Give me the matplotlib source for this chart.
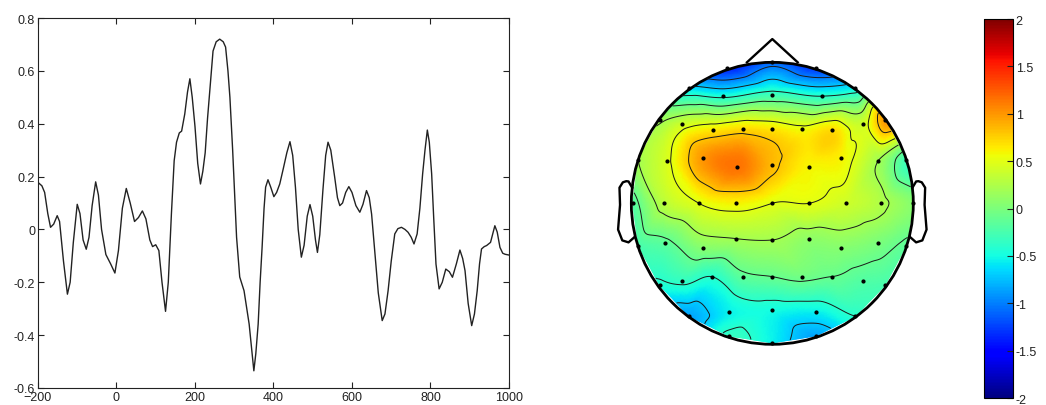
import numpy as np
import matplotlib
matplotlib.use("Agg")
import matplotlib.pyplot as plt
import matplotlib.tri as mtri
from matplotlib.patches import Circle

plt.rcParams['font.family'] = ['Liberation Sans', 'DejaVu Sans']

# averaged waveform (ms, amplitude)
times = [-200, -190, -183, -175, -168, -160, -151, -145, -135, -125, -118, -110,
         -100, -93, -85, -77, -70, -62, -53, -46, -38, -27, -15, -4, 5, 15, 25,
         35, 46, 56, 66, 75, 85, 92, 100, 108, 116, 125, 132, 140, 147, 153, 160,
         166, 174, 181, 187, 193, 200, 207, 214, 220, 226, 232, 238, 246, 254,
         263, 272, 278, 284, 289, 296, 306, 314, 325, 338, 345, 350, 355, 361,
         366, 371, 376, 380, 386, 393, 401, 408, 416, 425, 434, 442, 449, 456,
         463, 471, 478, 486, 493, 500, 507, 512, 518, 526, 533, 539, 546, 556,
         563, 569, 576, 584, 592, 600, 610, 620, 628, 637, 644, 650, 658, 667,
         677, 684, 692, 700, 709, 717, 726, 735, 743, 751, 758, 766, 773, 780,
         786, 792, 797, 803, 808, 814, 822, 830, 839, 848, 856, 866, 875, 882,
         888, 896, 905, 912, 919, 925, 930, 937, 943, 953, 958, 964, 970, 977,
         984, 990, 1000]
amplitude = [0.178, 0.165, 0.14, 0.06, 0.008, 0.02, 0.052, 0.03, -0.12, -0.245,
             -0.2, -0.05, 0.095, 0.06, -0.04, -0.075, -0.03, 0.09, 0.18, 0.13,
             0.0, -0.095, -0.13, -0.165, -0.08, 0.08, 0.155, 0.1, 0.03, 0.045,
             0.07, 0.04, -0.04, -0.065, -0.058, -0.08, -0.2, -0.31, -0.2, 0.06,
             0.26, 0.33, 0.365, 0.372, 0.437, 0.52, 0.57, 0.5, 0.39, 0.25, 0.172,
             0.22, 0.29, 0.42, 0.53, 0.675, 0.71, 0.72, 0.71, 0.69, 0.6, 0.5,
             0.3, -0.03, -0.18, -0.232, -0.358, -0.46, -0.535, -0.47, -0.358,
             -0.2, -0.068, 0.08, 0.16, 0.188, 0.16, 0.124, 0.14, 0.172, 0.23,
             0.29, 0.332, 0.28, 0.159, 0.0, -0.105, -0.06, 0.05, 0.094, 0.05,
             -0.04, -0.087, -0.02, 0.15, 0.28, 0.33, 0.3, 0.197, 0.12, 0.09,
             0.1, 0.14, 0.162, 0.14, 0.09, 0.065, 0.095, 0.147, 0.12, 0.058,
             -0.08, -0.24, -0.345, -0.32, -0.232, -0.12, -0.017, 0.003, 0.008,
             0.0, -0.011, -0.03, -0.055, -0.017, 0.08, 0.21, 0.3, 0.376, 0.33,
             0.21, 0.05, -0.131, -0.225, -0.2, -0.15, -0.16, -0.181, -0.13,
             -0.078, -0.11, -0.156, -0.28, -0.364, -0.32, -0.232, -0.13, -0.074,
             -0.065, -0.061, -0.049, -0.02, 0.014, -0.01, -0.068, -0.09, -0.094,
             -0.097]

# electrode positions on the unit head circle (nose up) and scalp values
elec_x = [0.00, -0.32, 0.31, -0.59, 0.59, -0.35, 0.00, 0.35,
          -0.80, -0.64, -0.42, -0.21, 0.00, 0.21, 0.42, 0.64, 0.80,
          -0.95, -0.75, -0.49, -0.25, 0.00, 0.26, 0.49, 0.75, 0.95,
          -0.99, -0.77, -0.52, -0.26, 0.00, 0.26, 0.52, 0.77, 1.00,
          -0.95, -0.76, -0.49, -0.26, 0.00, 0.26, 0.49, 0.75, 0.95,
          -0.80, -0.64, -0.43, -0.21, 0.00, 0.21, 0.42, 0.64, 0.80,
          -0.59, -0.31, 0.00, 0.31, 0.59,
          -0.31, 0.00, 0.31]
elec_y = [1.00, 0.96, 0.96, 0.82, 0.82, 0.76, 0.77, 0.76,
          0.59, 0.56, 0.52, 0.53, 0.53, 0.53, 0.52, 0.56, 0.59,
          0.31, 0.30, 0.32, 0.26, 0.27, 0.26, 0.32, 0.30, 0.31,
          0.00, 0.00, 0.00, 0.00, 0.00, 0.00, 0.00, 0.00, 0.00,
          -0.30, -0.28, -0.32, -0.25, -0.26, -0.25, -0.32, -0.28, -0.30,
          -0.58, -0.55, -0.52, -0.52, -0.52, -0.52, -0.52, -0.55, -0.58,
          -0.80, -0.77, -0.76, -0.77, -0.80,
          -0.94, -0.99, -0.94]
elec_val = [-1.1, -1.4, -1.3, -0.65, -0.55, -0.45, -0.3, -0.4,
            0.15, 0.4, 0.65, 0.7, 0.65, 0.55, 0.7, 0.4, 1.0,
            0.2, 0.45, 1.0, 1.15, 0.85, 0.6, 0.6, 0.2, -0.3,
            -0.2, 0.3, 0.5, 0.6, 0.5, 0.5, 0.4, 0.25, 0.05,
            -0.25, -0.15, 0.05, 0.2, 0.2, 0.1, 0.05, 0.0, -0.15,
            -0.45, -0.35, -0.4, -0.15, -0.1, -0.05, -0.1, -0.2, -0.25,
            -0.85, -0.55, -0.5, -0.55, -0.4,
            -0.35, -0.55, -0.85]

# head outline pieces
nose_x = [0.18, 0.0, -0.18]
nose_y = [1.0, 1.165, 1.0]
ear_x = [0.994, 1.02, 1.036, 1.06, 1.084, 1.08, 1.094, 1.064, 1.02, 0.978]
ear_y = [0.111, 0.155, 0.157, 0.149, 0.111, -0.011, -0.186, -0.263, -0.277, -0.240]

cbar_ticks = [-2, -1.5, -1, -0.5, 0, 0.5, 1, 1.5, 2]
contour_levels = [-1.0, -0.7, -0.4, -0.1, 0.2, 0.5, 0.8]

fig = plt.figure(figsize=(10.46, 4.06), dpi=100)

# ---- waveform ----
ax = fig.add_axes([0.0363, 0.0419, 0.4503, 0.9113])
ax.plot(times, amplitude, color='#222222', lw=1.0)
ax.set_xlim(-200, 1000)
ax.set_ylim(-0.6, 0.8)
ax.set_xticks([-200, 0, 200, 400, 600, 800, 1000])
ax.set_yticks([-0.6, -0.4, -0.2, 0, 0.2, 0.4, 0.6, 0.8])
ax.set_yticklabels(['-0.6', '-0.4', '-0.2', '0', '0.2', '0.4', '0.6', '0.8'])
ax.tick_params(direction='in', top=True, right=True, length=4, width=0.8,
               labelsize=9, pad=2, colors='#222222')
for s in ax.spines.values():
    s.set_linewidth(0.8)
    s.set_color('#222222')

# ---- scalp map ----
hx = fig.add_axes([0.5766, 0.0800, 0.3235, 0.8335])
hx.set_xlim(-1.2, 1.2)
hx.set_ylim(-1.2, 1.2)
hx.set_aspect('equal')
hx.axis('off')

tri = mtri.Triangulation(elec_x, elec_y)
interp = mtri.CubicTriInterpolator(tri, np.array(elec_val), kind='geom')
refiner = mtri.UniformTriRefiner(tri)
tri_f, val_f = refiner.refine_field(np.array(elec_val), triinterpolator=interp, subdiv=5)

clip = Circle((0, 0), 1.0, transform=hx.transData)
pc = hx.tripcolor(tri_f, val_f, shading='gouraud', cmap='jet', vmin=-2, vmax=2)
pc.set_clip_path(clip)
cs = hx.tricontour(tri_f, val_f, levels=contour_levels, colors='#1a1a1a',
                   linewidths=0.7, linestyles='solid')
cs.set_clip_path(clip)

hx.add_patch(Circle((0, 0), 1.0, fill=False, ec='black', lw=2))
hx.plot(nose_x, nose_y, color='black', lw=1.7)
hx.plot(ear_x, ear_y, color='black', lw=1.7)
hx.plot([-v for v in ear_x], ear_y, color='black', lw=1.7)
hx.plot(elec_x, elec_y, '.', color='black', ms=4)

# ---- colour bar ----
cax = fig.add_axes([0.9407, 0.0172, 0.0277, 0.9335])
cb = fig.colorbar(pc, cax=cax, ticks=cbar_ticks)
cb.ax.set_yticklabels(['-2', '-1.5', '-1', '-0.5', '0', '0.5', '1', '1.5', '2'])
cb.ax.tick_params(direction='in', length=4, width=0.8, labelsize=9, pad=2,
                  colors='#222222')
cb.outline.set_linewidth(0.8)

fig.savefig('out.png', dpi=100, facecolor='white')
